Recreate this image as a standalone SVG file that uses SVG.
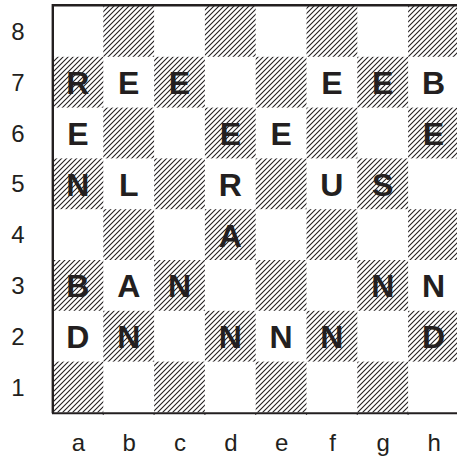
<svg xmlns="http://www.w3.org/2000/svg" width="457" height="456" viewBox="0 0 457 456">
  <defs>
    <pattern id="hatch" patternUnits="userSpaceOnUse" width="5" height="5">
      <path d="M-1,1 L1,-1 M0,5 L5,0 M4,6 L6,4" stroke="#231f20" stroke-width="1.1"/>
    </pattern>
  </defs>
  <style>
    .dark { fill: url(#hatch); }
    .pc { font-family: "Liberation Sans", Arial, sans-serif; font-weight: bold; font-size: 32px; fill: #231f20; text-anchor: middle; }
    .lbl { font-family: "Liberation Sans", Arial, sans-serif; font-size: 24px; fill: #231f20; text-anchor: middle; }
    .border { stroke: #231f20; fill: none; }
  </style>
  <rect x="0" y="0" width="457" height="456" fill="#ffffff"/>
  <g id="board">
    <rect class="dark" x="103.3" y="6" width="50.8" height="50.8"/>
    <rect class="dark" x="204.9" y="6" width="50.8" height="50.8"/>
    <rect class="dark" x="306.5" y="6" width="50.8" height="50.8"/>
    <rect class="dark" x="408.1" y="6" width="50.8" height="50.8"/>
    <rect class="dark" x="52.5" y="56.8" width="50.8" height="50.8"/>
    <rect class="dark" x="154.1" y="56.8" width="50.8" height="50.8"/>
    <rect class="dark" x="255.7" y="56.8" width="50.8" height="50.8"/>
    <rect class="dark" x="357.3" y="56.8" width="50.8" height="50.8"/>
    <rect class="dark" x="103.3" y="107.6" width="50.8" height="50.8"/>
    <rect class="dark" x="204.9" y="107.6" width="50.8" height="50.8"/>
    <rect class="dark" x="306.5" y="107.6" width="50.8" height="50.8"/>
    <rect class="dark" x="408.1" y="107.6" width="50.8" height="50.8"/>
    <rect class="dark" x="52.5" y="158.4" width="50.8" height="50.8"/>
    <rect class="dark" x="154.1" y="158.4" width="50.8" height="50.8"/>
    <rect class="dark" x="255.7" y="158.4" width="50.8" height="50.8"/>
    <rect class="dark" x="357.3" y="158.4" width="50.8" height="50.8"/>
    <rect class="dark" x="103.3" y="209.2" width="50.8" height="50.8"/>
    <rect class="dark" x="204.9" y="209.2" width="50.8" height="50.8"/>
    <rect class="dark" x="306.5" y="209.2" width="50.8" height="50.8"/>
    <rect class="dark" x="408.1" y="209.2" width="50.8" height="50.8"/>
    <rect class="dark" x="52.5" y="260" width="50.8" height="50.8"/>
    <rect class="dark" x="154.1" y="260" width="50.8" height="50.8"/>
    <rect class="dark" x="255.7" y="260" width="50.8" height="50.8"/>
    <rect class="dark" x="357.3" y="260" width="50.8" height="50.8"/>
    <rect class="dark" x="103.3" y="310.8" width="50.8" height="50.8"/>
    <rect class="dark" x="204.9" y="310.8" width="50.8" height="50.8"/>
    <rect class="dark" x="306.5" y="310.8" width="50.8" height="50.8"/>
    <rect class="dark" x="408.1" y="310.8" width="50.8" height="50.8"/>
    <rect class="dark" x="52.5" y="361.6" width="50.8" height="50.8"/>
    <rect class="dark" x="154.1" y="361.6" width="50.8" height="50.8"/>
    <rect class="dark" x="255.7" y="361.6" width="50.8" height="50.8"/>
    <rect class="dark" x="357.3" y="361.6" width="50.8" height="50.8"/>
    <path class="border" d="M52.5,5.2 L457,5.2" stroke-width="2.6"/>
    <path class="border" d="M52.8,4 L52.8,413.3" stroke-width="2.4"/>
    <path class="border" d="M52,413.3 L457,413.3" stroke-width="2"/>
    <path class="border" d="M103.3,413 v1.8 M154.1,413 v1.8 M204.9,413 v1.8 M255.7,413 v1.8 M306.5,413 v1.8 M357.3,413 v1.8 M408.1,413 v1.8" stroke-width="1.2"/>
  </g>
  <g id="rank-labels">
    <text class="lbl" x="18" y="40">8</text>
    <text class="lbl" x="18" y="90.8">7</text>
    <text class="lbl" x="18" y="141.6">6</text>
    <text class="lbl" x="18" y="192.4">5</text>
    <text class="lbl" x="18" y="243.2">4</text>
    <text class="lbl" x="18" y="294">3</text>
    <text class="lbl" x="18" y="344.8">2</text>
    <text class="lbl" x="18" y="395.6">1</text>
  </g>
  <g id="file-labels">
    <text class="lbl" x="78.5" y="450.5">a</text>
    <text class="lbl" x="129.3" y="450.5">b</text>
    <text class="lbl" x="180.1" y="450.5">c</text>
    <text class="lbl" x="230.9" y="450.5">d</text>
    <text class="lbl" x="281.7" y="450.5">e</text>
    <text class="lbl" x="332.5" y="450.5">f</text>
    <text class="lbl" x="383.3" y="450.5">g</text>
    <text class="lbl" x="434.1" y="450.5">h</text>
  </g>
  <g id="rank7">
    <text class="pc" x="77.9" y="94.2">R</text>
    <text class="pc" x="128.7" y="94.2">E</text>
    <text class="pc" x="179.5" y="94.2">E</text>
    <text class="pc" x="331.9" y="94.2">E</text>
    <text class="pc" x="382.7" y="94.2">E</text>
    <text class="pc" x="433.5" y="94.2">B</text>
  </g>
  <g id="rank6">
    <text class="pc" x="77.9" y="145">E</text>
    <text class="pc" x="230.3" y="145">E</text>
    <text class="pc" x="281.1" y="145">E</text>
    <text class="pc" x="433.5" y="145">E</text>
  </g>
  <g id="rank5">
    <text class="pc" x="77.9" y="195.8">N</text>
    <text class="pc" x="128.7" y="195.8">L</text>
    <text class="pc" x="230.3" y="195.8">R</text>
    <text class="pc" x="331.9" y="195.8">U</text>
    <text class="pc" x="382.7" y="195.8">S</text>
  </g>
  <g id="rank4">
    <text class="pc" x="230.3" y="246.6">A</text>
  </g>
  <g id="rank3">
    <text class="pc" x="77.9" y="297.4">B</text>
    <text class="pc" x="128.7" y="297.4">A</text>
    <text class="pc" x="179.5" y="297.4">N</text>
    <text class="pc" x="382.7" y="297.4">N</text>
    <text class="pc" x="433.5" y="297.4">N</text>
  </g>
  <g id="rank2">
    <text class="pc" x="77.9" y="348.2">D</text>
    <text class="pc" x="128.7" y="348.2">N</text>
    <text class="pc" x="230.3" y="348.2">N</text>
    <text class="pc" x="281.1" y="348.2">N</text>
    <text class="pc" x="331.9" y="348.2">N</text>
    <text class="pc" x="433.5" y="348.2">D</text>
  </g>
</svg>
